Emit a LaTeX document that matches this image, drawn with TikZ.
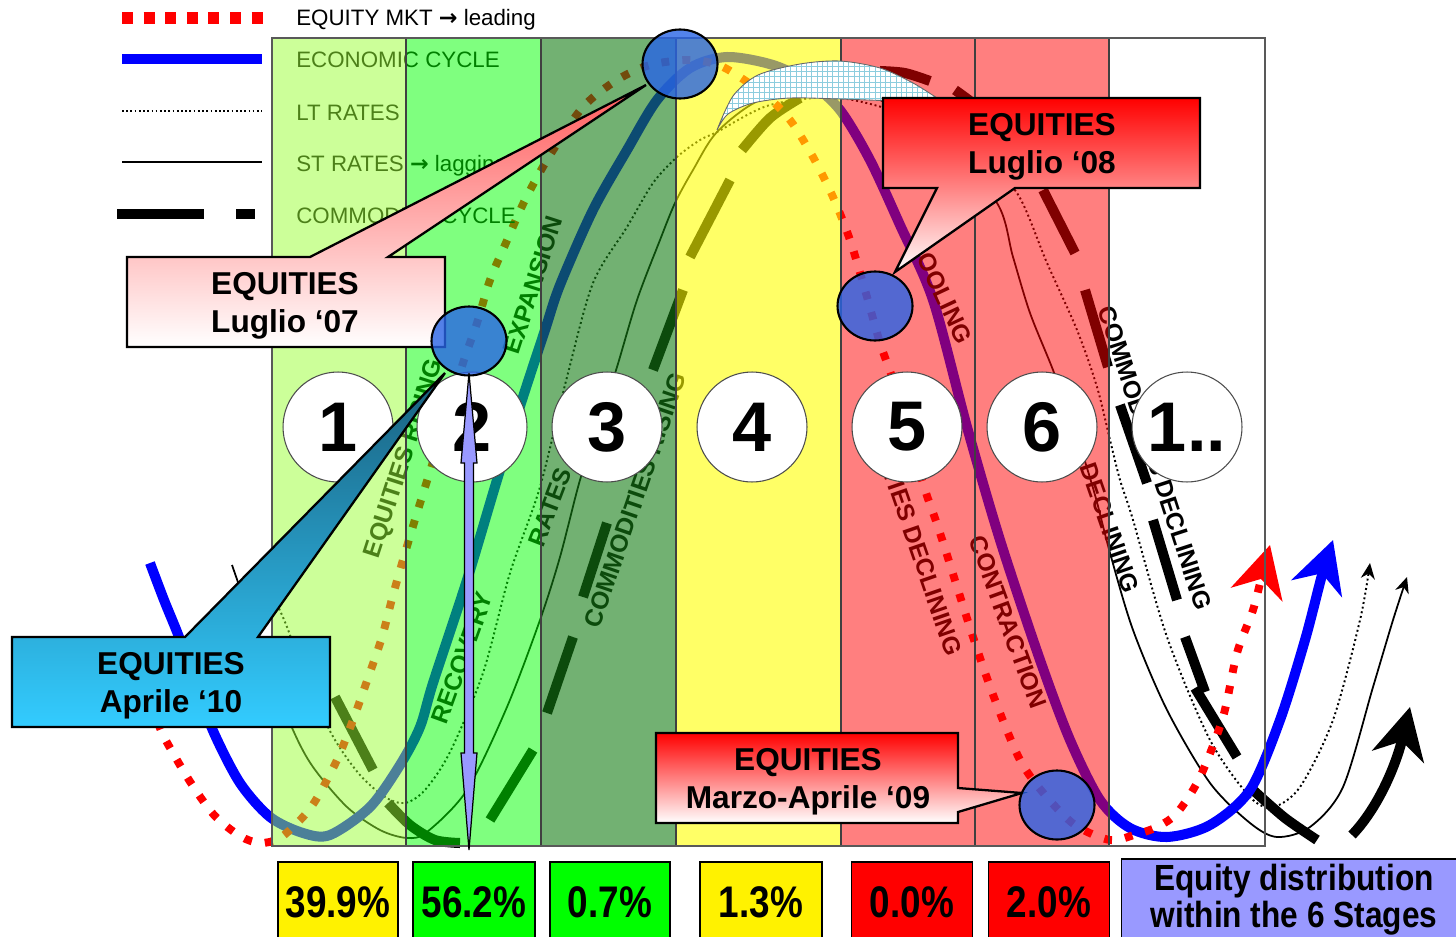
\documentclass[tikz,border=0pt]{standalone}
\usepackage{fontspec}
\usepackage{graphicx}
\setmainfont{Liberation Sans}
\newfontfamily\arrowfont{DejaVu Sans}
\usetikzlibrary{arrows.meta,patterns,shapes.geometric}
\definecolor{sone}{RGB}{153,255,51}
\definecolor{stwo}{RGB}{0,255,0}
\definecolor{sthree}{RGB}{20,125,20}
\definecolor{sfour}{RGB}{255,255,0}
\definecolor{sfive}{RGB}{255,0,0}
\definecolor{eqblue}{RGB}{40,100,230}
\definecolor{lav}{RGB}{153,153,255}
\definecolor{tealdark}{RGB}{25,95,125}
\definecolor{cyanl}{RGB}{51,204,255}
\definecolor{grnbox}{RGB}{0,255,0}
\definecolor{cresc}{RGB}{140,205,222}
\definecolor{pinktop}{RGB}{255,90,90}
\newcommand{\rarr}{{\arrowfont\bfseries →}}
\begin{document}
\begin{tikzpicture}[x=0.02cm,y=-0.02cm,
  equity/.style={red, line width=4.5pt, dash pattern=on 4.5pt off 7.5pt},
  econ/.style={blue, line width=5.7pt},
  ltr/.style={black, line width=1.1pt, dash pattern=on 1.1pt off 1.6pt},
  str/.style={black, line width=1pt},
  commseg/.style={black, line width=5.7pt},
  smalltip/.style={-{Stealth[length=9pt,width=8pt]}},
  bigtip/.style={-{Stealth[length=29pt,width=30pt,inset=9pt]}},
  divider/.style={black!75, line width=0.6pt},
  lbl/.style={font=\bfseries\fontsize{14}{14}\selectfont, inner sep=0pt},
  leg/.style={font=\fontsize{12.7}{13}\selectfont, anchor=base west, inner sep=0pt},
  numc/.style={circle, draw=black!70, line width=0.6pt, fill=white, minimum size=2.2cm, inner sep=0pt, font=\bfseries\fontsize{40}{40}\selectfont},
  call/.style={draw=black, line width=1.3pt},
  calltext/.style={font=\bfseries\fontsize{18}{21.5}\selectfont, align=center, inner sep=0pt},
  bluedot/.style={ellipse, draw=black, line width=1.2pt, fill=eqblue, fill opacity=0.8, minimum width=1.5cm, minimum height=1.38cm, inner sep=0pt},
  pct/.style={draw=black, line width=0.8pt, minimum width=2.4cm, minimum height=1.6cm, inner sep=0pt, font=\bfseries\fontsize{21}{21}\selectfont},
]
\useasboundingbox (0,0) rectangle (1456,936);

% ---------------- commodity cycle (dashes) ----------------
\draw[commseg] (335,697) -- (373,770);
\draw[commseg] plot[smooth] coordinates {(388,803) (410,825) (435,840) (460,843)};
\draw[commseg] (490,820) -- (533,750);
\draw[commseg] (547,713) -- (573,637);
\draw[commseg] (583,597) -- (607,523);
\draw[commseg] (653,370) -- (683,290);
\draw[commseg] (690,257) -- (730,180);
\draw[commseg] plot[smooth] coordinates {(742,150) (770,118) (800,98)};
\draw[commseg] plot[smooth] coordinates {(880,71) (905,73) (930,81)};
\draw[commseg] plot[smooth] coordinates {(955,90) (975,105) (995,125)};
\draw[commseg] (1043,190) -- (1075,253);
\draw[commseg] (1085,290) -- (1108,367);
\draw[commseg] (1120,405) -- (1147,483);
\draw[commseg] (1153,520) -- (1177,600);
\draw[commseg] (1185,637) -- (1205,692);
\draw[commseg] (1195,688) -- (1237,757);
\draw[commseg] plot[smooth] coordinates {(1253,790) (1285,818) (1317,840)};
\draw[commseg, bigtip] (1352,835) .. controls (1378,808) and (1396,765) .. (1410,707);

% ---------------- LT / ST rates ----------------
\draw[ltr, smalltip] plot[smooth] coordinates {(275,600) (287,627) (310,690) (335,740) (360,775) (385,797) (405,803) (425,790) (450,752) (483,673) (510,573) (540,487) (567,377) (593,283) (627,227) (653,183) (677,157) (700,140) (717,132) (770,105) (840,98) (920,120) (975,155) (1017,193) (1047,263) (1077,330) (1097,387) (1110,440) (1120,480) (1133,520) (1167,637) (1210,740) (1250,797) (1273,807) (1300,787) (1333,720) (1360,620) (1370,563)};

\draw[str, smalltip] plot[smooth] coordinates {(232,565) (240,588) (265,660) (293,730) (313,767) (347,807) (380,830) (407,838) (427,832) (467,790) (507,707) (540,620) (560,557) (580,480) (600,420) (617,367) (637,300) (660,240) (675,203) (693,170) (717,132) (760,100) (820,88) (880,100) (940,140) (997,203) (1013,257) (1030,313) (1053,370) (1075,430) (1095,495) (1110,553) (1133,630) (1167,710) (1210,783) (1250,823) (1277,837) (1310,827) (1343,787) (1373,687) (1393,620) (1407,577)};

% ---------------- economic cycle ----------------
\draw[econ, bigtip] plot[smooth] coordinates {(150,563) (164,600) (179,637) (196,685) (214,733) (240,783) (270,817) (303,833) (330,835) (370,807) (400,765) (420,727) (433,683) (467,580) (497,480) (522,400) (545,330) (560,285) (593,210) (627,150) (657,100) (690,68) (727,57) (773,65) (810,83) (840,110) (870,160) (900,225) (933,300) (967,427) (1000,540) (1040,660) (1070,740) (1100,800) (1130,828) (1167,837) (1210,825) (1250,790) (1280,720) (1305,640) (1322,575) (1333,540)};

% ---------------- equity market ----------------
\draw[equity, bigtip] plot[smooth] coordinates {(158,722) (164,737) (189,780) (214,815) (240,836) (260,843) (280,838) (303,817) (317,798) (337,760) (353,720) (368,678) (382,637) (393,595) (405,553) (417,513) (432,465) (448,415) (463,363) (477,323) (490,280) (505,245) (525,200) (550,155) (583,107) (617,80) (650,65) (690,60) (723,67) (765,95) (790,120) (813,157) (833,197) (850,240) (865,290) (880,343) (893,380) (910,440) (925,490) (940,533) (973,637) (995,700) (1020,760) (1045,795) (1075,825) (1110,840) (1137,834) (1157,827) (1177,813) (1200,777) (1223,717) (1237,653) (1253,610) (1262,575) (1270,545)};

% ---------------- texts under the stage fills ----------------
\node[leg] (tEcon) at (296,68) {ECONOMIC CYCLE};
\node[leg] (tLT) at (296,120) {LT RATES};
\node[leg] (tST) at (296,171) {ST RATES \rarr{} lagging};
\node[leg] (tCom) at (296,223) {COMMODITY CYCLE};

\node[lbl, rotate=72] (lEqR) at (405,459) {EQUITIES RISING};
\node[lbl, rotate=70] (lRec) at (462,658) {RECOVERY};
\node[lbl, rotate=72] (lExp) at (533,285) {EXPANSION};
\node[lbl, rotate=69] (lRat) at (550,507) {RATES};
\node[lbl, rotate=71] (lComR) at (635,500) {COMMODITIES RISING};
\node[lbl, rotate=-65] (lCool) at (941,290) {COOLING};
\node[lbl, rotate=-71] (lEqD) at (911,534) {EQUITIES DECLINING};
\node[lbl, rotate=-70] (lCon) at (1008,622) {CONTRACTION};
\node[lbl, rotate=-71] (lDec) at (1110,528) {DECLINING};
\node[lbl, rotate=-72] (lComD) at (1155,458) {COMMODITIES DECLINING};

% ---------------- stage fills ----------------
\fill[sone, fill opacity=0.5] (272,38) rectangle (406,846);
\fill[stwo, fill opacity=0.5] (406,38) rectangle (541,846);
\fill[sthree, fill opacity=0.6] (541,38) rectangle (676,846);
\fill[sfour, fill opacity=0.6] (676,38) rectangle (841,846);
\fill[sfive, fill opacity=0.5] (841,38) rectangle (1109,846);
\foreach \xx in {406,541,676,841,975,1109} \draw[divider] (\xx,38) -- (\xx,846);
\draw[black!65, line width=0.8pt] (272,38) rectangle (1265,846);

% ---------------- crescent ----------------
\draw[black!60, line width=0.5pt, preaction={fill=white}, pattern=grid, pattern color=cresc]
  plot[smooth] coordinates {(717,130) (733,96) (758,75) (800,64) (840,61) (880,68) (913,83) (940,100)}
  -- plot[smooth] coordinates {(940,100) (900,101) (840,99) (790,98) (753,103) (728,114) (717,130)} -- cycle;

% ---------------- stage numbers ----------------
\node[numc] (n1) at (338,427) {1};
\node[numc] (n2) at (472,427) {2};
\node[numc] (n3) at (607,427) {3};
\node[numc] (n4) at (752,427) {4};
\node[numc] (n5) at (907,427) {5};
\node[numc] (n6) at (1042,427) {6};
\node[numc] (n7) at (1187,427) {1..};

% ---------------- callouts ----------------
\path[call, top color=pinktop, bottom color=white]
  (127,257) -- (310,257) -- (646,85) -- (388,257) -- (445,257) -- (445,347) -- (127,347) -- cycle;
\node[calltext] (c07) at (285,306) {EQUITIES\\Luglio ‘07};

\path[call, top color=red, middle color=red!42!white, bottom color=white]
  (883,98) -- (1200,98) -- (1200,188) -- (1015,188) -- (895,272) -- (937,188) -- (883,188) -- cycle;
\node[calltext] (c08) at (1042,147) {EQUITIES\\Luglio ‘08};

\path[call, top color=tealdark, bottom color=cyanl]
  (12,637) -- (185,637) -- (445,373) -- (258,637) -- (330,637) -- (330,727) -- (12,727) -- cycle;
\node[calltext] (c10) at (171,686) {EQUITIES\\Aprile ‘10};

\path[call, top color=red, bottom color=white]
  (656,733) -- (958,733) -- (958,788) -- (1022,793) -- (958,812) -- (958,823) -- (656,823) -- cycle;
\node[calltext] (c09) at (808,782) {EQUITIES\\Marzo-Aprile ‘09};

% ---------------- blue markers ----------------
\node[bluedot] (b1) at (680,64) {};
\node[bluedot] (b2) at (469,341) {};
\node[bluedot] (b3) at (875,306) {};
\node[bluedot] (b4) at (1057,805) {};

% ---------------- double arrow ----------------
\coordinate (dtop) at (469,373);
\coordinate (dbot) at (469,850);
\draw[black, line width=0.7pt, fill=lav]
  (dtop) -- (477,463) -- (473.5,463) -- (473.5,753) -- (477,753) -- (dbot) -- (461,753) -- (464.5,753) -- (464.5,463) -- (461,463) -- cycle;

% ---------------- distribution boxes ----------------
\node[pct, fill=yellow] (p1) at (338,902) {\scalebox{1}[1.2]{39.9\%}};
\node[pct, fill=grnbox, minimum width=2.44cm] (p2) at (474,902) {\scalebox{1}[1.2]{56.2\%}};
\node[pct, fill=grnbox] (p3) at (610,902) {\scalebox{1}[1.2]{0.7\%}};
\node[pct, fill=yellow, minimum width=2.44cm] (p4) at (761,902) {\scalebox{1}[1.2]{1.3\%}};
\node[pct, fill=red, minimum width=2.42cm] (p5) at (912,902) {\scalebox{1}[1.2]{0.0\%}};
\node[pct, fill=red, minimum width=2.42cm] (p6) at (1049,902) {\scalebox{1}[1.2]{2.0\%}};
\node[draw=black, line width=0.8pt, fill=lav, minimum width=6.9cm, minimum height=1.64cm, inner sep=0pt,
      font=\bfseries\fontsize{18}{21}\selectfont, align=center] (p7) at (1294,900)
  {\scalebox{1}[1.15]{Equity distribution}\\\scalebox{1}[1.15]{within the 6 Stages}};

% ---------------- legend ----------------
\draw[red, line width=6.3pt, dash pattern=on 6.2pt off 6.1pt] (122,18) -- (264,18);
\draw[blue, line width=6.2pt] (122,59) -- (262,59);
\draw[black, line width=0.9pt, dash pattern=on 1pt off 1.4pt] (122,111) -- (262,111);
\draw[black, line width=1.4pt] (122,162) -- (262,162);
\draw[black, line width=6pt, dash pattern=on 49.3pt off 18.7pt on 10.8pt off 20pt] (117,214) -- (256,214);
\node[leg] (tEq) at (296,26) {EQUITY MKT \rarr{} leading};
\end{tikzpicture}
\end{document}
